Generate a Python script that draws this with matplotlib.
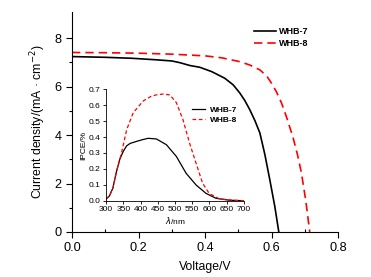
import matplotlib
matplotlib.use("Agg")
import matplotlib.pyplot as plt
import numpy as np

plt.rcParams['font.family'] = ['Liberation Sans', 'DejaVu Sans']

# J-V data
v7 = [0.0, 0.10, 0.18, 0.25, 0.30, 0.324, 0.355, 0.384, 0.42, 0.459, 0.485, 0.505, 0.52, 0.535, 0.55, 0.565, 0.58, 0.595, 0.61, 0.622]
j7 = [7.24, 7.21, 7.17, 7.11, 7.06, 6.99, 6.87, 6.80, 6.62, 6.35, 6.07, 5.73, 5.42, 5.04, 4.60, 4.09, 3.20, 2.15, 1.05, 0.0]
v8 = [0.0, 0.10, 0.20, 0.30, 0.40, 0.45, 0.505, 0.535, 0.565, 0.585, 0.60, 0.615, 0.63, 0.645, 0.664, 0.678, 0.69, 0.703, 0.715]
j8 = [7.41, 7.40, 7.38, 7.34, 7.27, 7.19, 7.03, 6.89, 6.69, 6.45, 6.14, 5.78, 5.33, 4.75, 3.94, 3.20, 2.44, 1.30, 0.0]

# IPCE data
wl7 = [300, 310, 320, 330, 340, 350, 360, 370, 389, 405, 422, 446, 475, 504, 532, 561, 590, 619, 657, 700]
ip7 = [0.01, 0.03, 0.08, 0.18, 0.26, 0.31, 0.345, 0.36, 0.373, 0.383, 0.392, 0.388, 0.352, 0.278, 0.173, 0.099, 0.046, 0.015, 0.003, 0.0]
wl8 = [300, 310, 320, 330, 340, 346, 360, 379, 408, 430, 446, 465, 485, 504, 523, 542, 561, 580, 599, 628, 666, 700]
ip8 = [0.01, 0.03, 0.08, 0.18, 0.26, 0.31, 0.447, 0.553, 0.627, 0.655, 0.665, 0.67, 0.665, 0.616, 0.51, 0.363, 0.236, 0.11, 0.046, 0.012, 0.003, 0.0]

labels = ['WHB-7', 'WHB-8']

fig = plt.figure(figsize=(3.71, 2.77), dpi=100)
W, H = 371, 277
ax = fig.add_axes([72/W, 1-232/H, (338-72)/W, (232-12)/H])
ax.plot(v7, j7, color='black', lw=1.2, label=labels[0])
ax.plot(v8, j8, color='red', lw=1.2, ls=(0, (5, 3)), label=labels[1])
ax.set_xlim(0, 0.8)
ax.set_ylim(0, 9.08)
ax.set_xticks([0.0, 0.2, 0.4, 0.6, 0.8])
ax.set_yticks([0, 2, 4, 6, 8])
ax.set_xticks([0.1, 0.3, 0.5, 0.7], minor=True)
ax.set_yticks([1, 3, 5, 7], minor=True)
ax.spines['top'].set_visible(False)
ax.spines['right'].set_visible(False)
ax.tick_params(axis='both', which='major', direction='out', length=4, width=0.8, labelsize=9.2)
ax.tick_params(axis='x', which='minor', direction='in', length=2.5, width=0.8)
ax.tick_params(axis='y', which='minor', direction='out', length=2.5, width=0.8)
ax.set_xlabel('Voltage/V', fontsize=8.8, labelpad=5)
ax.set_ylabel('Current density/(mA · cm$^{-2}$)', fontsize=8.8, labelpad=5)
ax.legend(loc='upper left', bbox_to_anchor=(254/W, 1-27/H), bbox_transform=fig.transFigure,
          frameon=False, prop={'weight': 'bold', 'size': 6.5}, handlelength=2.4,
          handletextpad=0.4, labelspacing=0.35, borderaxespad=0, borderpad=0)

ins = fig.add_axes([106/W, 1-200.7/H, (244-106)/W, (200.7-89.3)/H])
ins.patch.set_alpha(0)
ins.plot(wl7, ip7, color='black', lw=0.9, label=labels[0])
ins.plot(wl8, ip8, color='red', lw=0.9, ls=(0, (3, 2)), label=labels[1])
ins.set_xlim(300, 700)
ins.set_ylim(0, 0.7)
ins.set_xticks(np.arange(300, 701, 50))
ins.set_yticks(np.arange(0, 0.71, 0.1))
ins.yaxis.set_major_formatter(matplotlib.ticker.FormatStrFormatter('%.1f'))
ins.spines['top'].set_visible(False)
ins.spines['right'].set_visible(False)
ins.tick_params(axis='both', which='major', direction='out', length=2.5, width=0.6, labelsize=6, pad=1.5)
for s in ins.spines.values():
    s.set_linewidth(0.6)
ins.set_xlabel(r'$\it{\lambda}$/nm', fontsize=6, labelpad=1)
ins.set_ylabel('IPCE/%', fontsize=6, labelpad=1)
ins.legend(loc='upper left', bbox_to_anchor=(192/W, 1-106/H), bbox_transform=fig.transFigure,
           frameon=False, prop={'weight': 'bold', 'size': 6}, handlelength=1.6,
           handletextpad=0.5, labelspacing=0.25, borderaxespad=0, borderpad=0)

fig.savefig('out.png', dpi=100)
